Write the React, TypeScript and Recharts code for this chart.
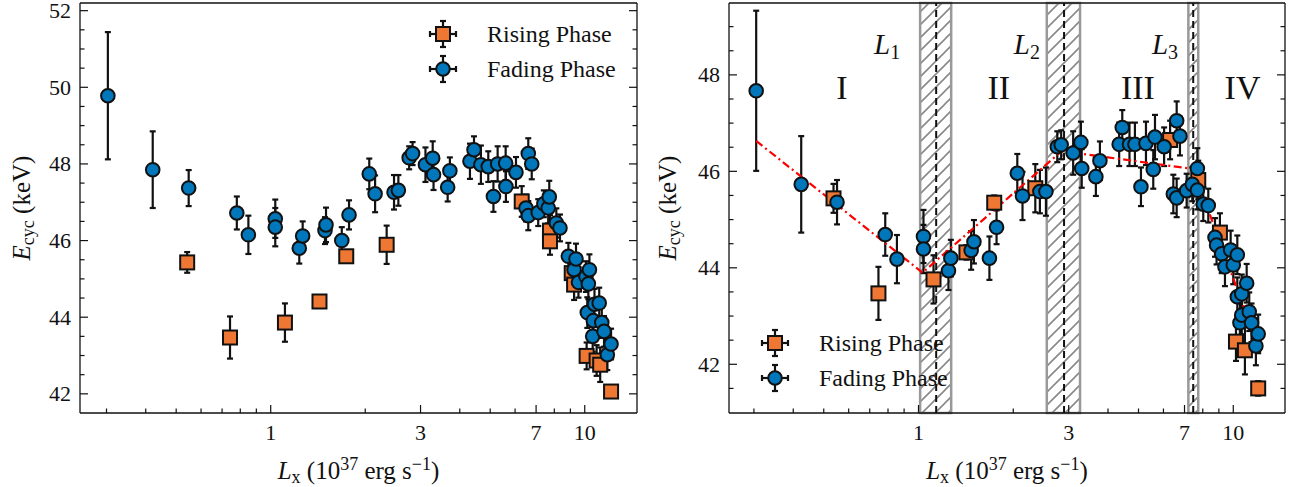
import { ScatterChart, Scatter, XAxis, YAxis, ErrorBar, ReferenceArea, ReferenceLine, Legend } from 'recharts'

const FONT = '"Liberation Serif", "Times New Roman", serif'
const BLUE = '#0077BB'
const ORANGE = '#EE7733'
const INK = '#111'

// [Lx (1e37 erg/s), Ecyc (keV), error]
const leftRising = [
  [0.542, 45.43, 0.27], [0.742, 43.47, 0.55], [1.11, 43.86, 0.5], [1.43, 44.41, 0.12],
  [1.74, 45.59, 0.1], [2.34, 45.89, 0.5], [6.3, 47.02, 0.4], [7.75, 46.26, 0.4],
  [7.75, 45.98, 0.35], [9.09, 45.15, 0.4], [9.25, 44.85, 0.4], [10.14, 42.99, 0.35],
  [10.91, 42.87, 0.4], [11.2, 42.76, 0.45], [12.13, 42.06, 0.15],
]

const leftFading = [
  [0.303, 49.78, 1.66], [0.421, 47.85, 1.0], [0.548, 47.37, 0.47], [0.78, 46.72, 0.43],
  [0.849, 46.15, 0.5], [1.034, 46.57, 0.5], [1.034, 46.35, 0.5], [1.233, 45.8, 0.4],
  [1.264, 46.12, 0.38], [1.489, 46.26, 0.35], [1.5, 46.41, 0.45], [1.684, 46.0, 0.35],
  [1.776, 46.67, 0.38], [2.06, 47.74, 0.4], [2.15, 47.22, 0.48], [2.47, 47.26, 0.45],
  [2.55, 47.31, 0.4], [2.76, 48.16, 0.3], [2.83, 48.27, 0.3], [3.11, 47.98, 0.45],
  [3.28, 48.15, 0.44], [3.3, 47.72, 0.4], [3.66, 47.39, 0.37], [3.72, 47.82, 0.35],
  [4.31, 48.07, 0.46], [4.44, 48.37, 0.35], [4.67, 47.98, 0.5], [4.93, 47.93, 0.4],
  [5.12, 47.15, 0.4], [5.28, 48.0, 0.46], [5.6, 48.02, 0.44], [5.61, 47.41, 0.4],
  [6.04, 47.78, 0.4], [6.5, 46.85, 0.35], [6.61, 48.27, 0.4], [6.61, 46.65, 0.38],
  [6.78, 48.0, 0.4], [7.11, 46.73, 0.35], [7.41, 46.96, 0.35], [7.65, 46.85, 0.4],
  [7.71, 47.14, 0.42], [8.12, 46.46, 0.38], [8.34, 46.33, 0.35], [8.87, 45.59, 0.35],
  [9.25, 45.24, 0.4], [9.38, 45.52, 0.4], [9.55, 44.91, 0.4], [10.09, 45.06, 0.4],
  [10.19, 44.12, 0.4], [10.27, 44.87, 0.4], [10.35, 45.24, 0.4], [10.6, 43.5, 0.4],
  [10.65, 43.91, 0.4], [10.74, 44.34, 0.4], [11.12, 44.37, 0.4], [11.33, 43.86, 0.4],
  [11.52, 43.63, 0.4], [11.8, 43.02, 0.4], [12.13, 43.3, 0.4],
]

const rightRising = [
  [0.537, 45.44, 0.3], [0.746, 43.47, 0.55], [1.116, 43.76, 0.5], [1.42, 44.32, 0.15],
  [1.74, 45.35, 0.15], [2.35, 45.65, 0.5], [6.3, 46.65, 0.4], [7.74, 45.82, 0.4],
  [9.07, 44.73, 0.4], [10.2, 42.47, 0.4], [10.89, 42.29, 0.5], [12.0, 41.5, 0.15],
]

const rightFading = [
  [0.305, 47.67, 1.66], [0.424, 45.73, 1.0], [0.551, 45.36, 0.46], [0.784, 44.69, 0.44],
  [0.854, 44.18, 0.5], [1.037, 44.65, 0.55], [1.037, 44.39, 0.5], [1.245, 43.94, 0.4],
  [1.267, 44.2, 0.38], [1.47, 44.36, 0.4], [1.5, 44.54, 0.45], [1.68, 44.2, 0.45],
  [1.77, 44.84, 0.35], [2.06, 45.96, 0.4], [2.14, 45.49, 0.5], [2.43, 45.58, 0.45],
  [2.54, 45.58, 0.5], [2.76, 46.51, 0.32], [2.84, 46.55, 0.3], [3.1, 46.38, 0.45],
  [3.28, 46.6, 0.43], [3.3, 46.06, 0.4], [3.66, 45.89, 0.4], [3.77, 46.22, 0.4],
  [4.34, 46.56, 0.45], [4.44, 46.91, 0.36], [4.68, 46.56, 0.45], [4.87, 46.56, 0.45],
  [5.09, 45.68, 0.4], [5.28, 46.58, 0.45], [5.57, 46.04, 0.4], [5.64, 46.71, 0.46],
  [6.03, 46.51, 0.4], [6.45, 45.53, 0.4], [6.61, 47.05, 0.4], [6.61, 45.45, 0.4],
  [6.77, 46.73, 0.4], [7.11, 45.6, 0.35], [7.41, 45.73, 0.35], [7.69, 46.06, 0.42],
  [7.69, 45.61, 0.4], [8.03, 45.32, 0.35], [8.33, 45.29, 0.35], [8.75, 44.63, 0.4],
  [8.85, 44.47, 0.4], [9.19, 44.29, 0.4], [9.41, 44.02, 0.4], [9.81, 44.37, 0.4],
  [10.0, 44.06, 0.4], [10.3, 44.27, 0.4], [10.3, 43.4, 0.4], [10.5, 42.86, 0.4],
  [10.64, 43.46, 0.4], [10.64, 43.02, 0.4], [11.03, 43.68, 0.4], [11.24, 43.09, 0.4],
  [11.43, 42.86, 0.4], [11.8, 42.38, 0.4], [12.0, 42.63, 0.4],
]

// broken power-law fit (right panel)
const fitL = [0.305, 1.03, 2.85, 7.45, 12.2]
const fitE = [46.63, 43.9, 46.42, 46.05, 42.25]

// transition luminosities: [lower, best, upper]
const bandLo = [1.012, 2.556, 7.2]
const bandMid = [1.138, 2.9, 7.46]
const bandHi = [1.27, 3.26, 7.74]
const bandNames = ['1', '2', '3']
const bandLabelL = [0.795, 2.21, 6.07]
const bandLabelE = 48.62

const phaseNames = ['I', 'II', 'III', 'IV']
const phaseL = [0.571, 1.8, 4.98, 10.7]
const phaseE = 47.75

const xTicks = [0.3, 0.4, 0.5, 0.6, 0.7, 0.8, 0.9, 1, 2, 3, 4, 5, 6, 7, 8, 9, 10]
const xMajor = [1, 3, 7, 10]
const leftYTicks = [42, 42.5, 43, 43.5, 44, 44.5, 45, 45.5, 46, 46.5, 47, 47.5, 48, 48.5, 49, 49.5, 50, 50.5, 51, 51.5, 52]
const rightYTicks = [41.5, 42, 42.5, 43, 43.5, 44, 44.5, 45, 45.5, 46, 46.5, 47, 47.5, 48, 48.5, 49]
const yMajor = [42, 44, 46, 48, 50, 52]

const toPts = (rows: number[][]) => rows.map(([L, E, err]) => ({ L, E, err }))

function XTick({ x, y, payload, top }: any) {
  const major = xMajor.includes(payload.value)
  const len = major ? 8 : 4.5
  return (
    <g>
      <line x1={x} x2={x} y1={y} y2={top ? y + len : y - len} stroke={INK} strokeWidth={1.2} />
      {!top && major && (
        <text x={x} y={y + 27} textAnchor="middle" fontSize={22} fontFamily={FONT} fill={INK}>
          {payload.value}
        </text>
      )}
    </g>
  )
}

function YTick({ x, y, payload, right }: any) {
  const major = yMajor.includes(payload.value)
  const len = major ? 8 : 4.5
  return (
    <g>
      <line x1={x} x2={right ? x - len : x + len} y1={y} y2={y} stroke={INK} strokeWidth={1.2} />
      {!right && major && (
        <text x={x - 9} y={y + 7.5} textAnchor="end" fontSize={22} fontFamily={FONT} fill={INK}>
          {payload.value}
        </text>
      )}
    </g>
  )
}

function XLabel({ viewBox }: any) {
  const cx = viewBox.x + viewBox.width / 2
  return (
    <text x={cx} y={viewBox.y + 66} textAnchor="middle" fontSize={25} fontFamily={FONT} fill={INK}>
      <tspan fontStyle="italic">L</tspan>
      <tspan fontSize={18} dy={4}>x</tspan>
      <tspan dy={-4}> (10</tspan>
      <tspan fontSize={18} dy={-9}>37</tspan>
      <tspan dy={9}> erg s</tspan>
      <tspan fontSize={18} dy={-9}>−1</tspan>
      <tspan dy={9}>)</tspan>
    </text>
  )
}

function YLabel({ viewBox }: any) {
  const cx = 22
  const cy = viewBox.y + viewBox.height / 2
  return (
    <text x={cx} y={cy} transform={`rotate(-90, ${cx}, ${cy})`} textAnchor="middle" dy={8} fontSize={25} fontFamily={FONT} fill={INK}>
      <tspan fontStyle="italic">E</tspan>
      <tspan fontSize={18} dy={4}>cyc</tspan>
      <tspan dy={-4}> (keV)</tspan>
    </text>
  )
}

function Circle({ cx, cy }: any) {
  return <circle cx={cx} cy={cy} r={6.8} fill={BLUE} stroke={INK} strokeWidth={2} />
}

function Square({ cx, cy }: any) {
  return <rect x={cx - 7} y={cy - 7} width={14} height={14} fill={ORANGE} stroke={INK} strokeWidth={2} />
}

function LegendIcon({ kind }: { kind: string }) {
  return (
    <svg width={30} height={30}>
      <g stroke={INK} strokeWidth={2.2}>
        <line x1={2} x2={28} y1={15} y2={15} />
        <line x1={15} x2={15} y1={2} y2={28} />
        <line x1={2} x2={2} y1={12} y2={18} />
        <line x1={28} x2={28} y1={12} y2={18} />
        <line x1={12} x2={18} y1={2} y2={2} />
        <line x1={12} x2={18} y1={28} y2={28} />
      </g>
      {kind === 'square' ? <Square cx={15} cy={15} /> : <Circle cx={15} cy={15} />}
    </svg>
  )
}

const legendItems = [
  { name: 'Rising Phase', kind: 'square' },
  { name: 'Fading Phase', kind: 'circle' },
]

function LegendBox() {
  return (
    <div style={{ fontFamily: FONT, fontSize: 24, color: INK }}>
      {legendItems.map((it) => (
        <div key={it.name} style={{ display: 'flex', alignItems: 'center', height: 35 }}>
          <LegendIcon kind={it.kind} />
          <span style={{ marginLeft: 29, lineHeight: 1, whiteSpace: 'nowrap' }}>{it.name}</span>
        </div>
      ))}
    </div>
  )
}

function Panel({ rising, fading, xDomain, yDomain, yTicks, leftWidth, marginRight, legendPos, fit }: any) {
  const fitPts = fitL.map((L, i) => ({ L, E: fitE[i] }))
  const phasePts = phaseL.map((L, i) => ({ L, E: phaseE, text: phaseNames[i] }))
  const bandPts = bandLabelL.map((L, i) => ({ L, E: bandLabelE, text: bandNames[i] }))
  return (
    <ScatterChart width={646} height={487} margin={{ top: 2, right: marginRight, bottom: 0, left: 0 }}>
      <XAxis
        dataKey="L" type="number" scale="log" domain={xDomain} allowDataOverflow ticks={xTicks} interval={0}
        height={74} tickSize={0} tickMargin={0} tickLine={false} axisLine={{ stroke: INK, strokeWidth: 1.3 }}
        tick={(p: any) => <XTick {...p} />} label={{ content: (p: any) => <XLabel {...p} /> }}
      />
      <XAxis
        xAxisId="top" orientation="top" type="number" scale="log" domain={xDomain} allowDataOverflow ticks={xTicks}
        interval={0} height={1} tickSize={0} tickMargin={0} tickLine={false} axisLine={{ stroke: INK, strokeWidth: 1.3 }}
        tick={(p: any) => <XTick {...p} top />}
      />
      <YAxis
        dataKey="E" type="number" domain={yDomain} allowDataOverflow ticks={yTicks} interval={0} width={leftWidth}
        tickSize={0} tickMargin={0} tickLine={false} axisLine={{ stroke: INK, strokeWidth: 1.3 }}
        tick={(p: any) => <YTick {...p} />} label={{ content: (p: any) => <YLabel {...p} /> }}
      />
      <YAxis
        yAxisId="right" orientation="right" type="number" domain={yDomain} allowDataOverflow ticks={yTicks} interval={0}
        width={1} tickSize={0} tickMargin={0} tickLine={false} axisLine={{ stroke: INK, strokeWidth: 1.3 }}
        tick={(p: any) => <YTick {...p} right />}
      />
      {fit && bandLo.map((lo, i) => (
        <ReferenceArea key={'a' + i} x1={lo} x2={bandHi[i]} fill="url(#hatch)" fillOpacity={1} stroke="#999" strokeWidth={2.5} />
      ))}
      {fit && bandMid.map((m, i) => (
        <ReferenceLine key={'l' + i} x={m} stroke={INK} strokeWidth={2} strokeDasharray="7 4" />
      ))}
      {fit && (
        <Scatter data={fitPts} isAnimationActive={false} line={{ stroke: '#ff0000', strokeWidth: 2.2, strokeDasharray: '8 3.5 2 3.5' }} shape={() => <g />} />
      )}
      <Scatter data={toPts(rising)} isAnimationActive={false} shape={(p: any) => <Square {...p} />}>
        <ErrorBar dataKey="err" direction="y" width={3} stroke={INK} strokeWidth={2.2} />
      </Scatter>
      <Scatter data={toPts(fading)} isAnimationActive={false} shape={(p: any) => <Circle {...p} />}>
        <ErrorBar dataKey="err" direction="y" width={3} stroke={INK} strokeWidth={2.2} />
      </Scatter>
      {fit && (
        <Scatter
          data={phasePts} isAnimationActive={false}
          shape={(p: any) => (
            <text x={p.cx} y={p.cy} dy={12} textAnchor="middle" fontSize={34} fontFamily={FONT} fill={INK}>{p.payload.text}</text>
          )}
        />
      )}
      {fit && (
        <Scatter
          data={bandPts} isAnimationActive={false}
          shape={(p: any) => (
            <text x={p.cx} y={p.cy} dy={9} textAnchor="middle" fontSize={29} fontFamily={FONT} fill={INK}>
              <tspan fontStyle="italic">L</tspan>
              <tspan fontSize={20} dy={5}>{p.payload.text}</tspan>
            </text>
          )}
        />
      )}
      <Legend
        layout="vertical" align="center" verticalAlign="middle" content={() => <LegendBox />}
        wrapperStyle={{ left: legendPos[0], top: legendPos[1], width: 'auto', height: 'auto' }}
      />
    </ScatterChart>
  )
}

export default function App() {
  return (
    <div style={{ position: 'absolute', left: 0, top: 0, width: 1292, height: 487, background: '#fff' }}>
      <svg width={0} height={0} style={{ position: 'absolute' }}>
        <defs>
          <pattern id="hatch" patternUnits="userSpaceOnUse" width={13} height={13}>
            <path d="M0,13 L13,0 M-3,3 L3,-3 M10,16 L16,10" stroke="#888" strokeWidth={1.6} />
          </pattern>
        </defs>
      </svg>
      <div style={{ position: 'absolute', left: 0, top: 0 }}>
        <Panel
          rising={leftRising} fading={leftFading} xDomain={[0.247, 14.67]} yDomain={[41.5, 52.2]}
          yTicks={leftYTicks} leftWidth={80} marginRight={8} legendPos={[428, 16]}
        />
      </div>
      <div style={{ position: 'absolute', left: 646, top: 0 }}>
        <Panel
          rising={rightRising} fading={rightFading} xDomain={[0.25, 14.6]} yDomain={[40.99, 49.49]}
          yTicks={rightYTicks} leftWidth={83} marginRight={6} legendPos={[114, 325]} fit
        />
      </div>
    </div>
  )
}
